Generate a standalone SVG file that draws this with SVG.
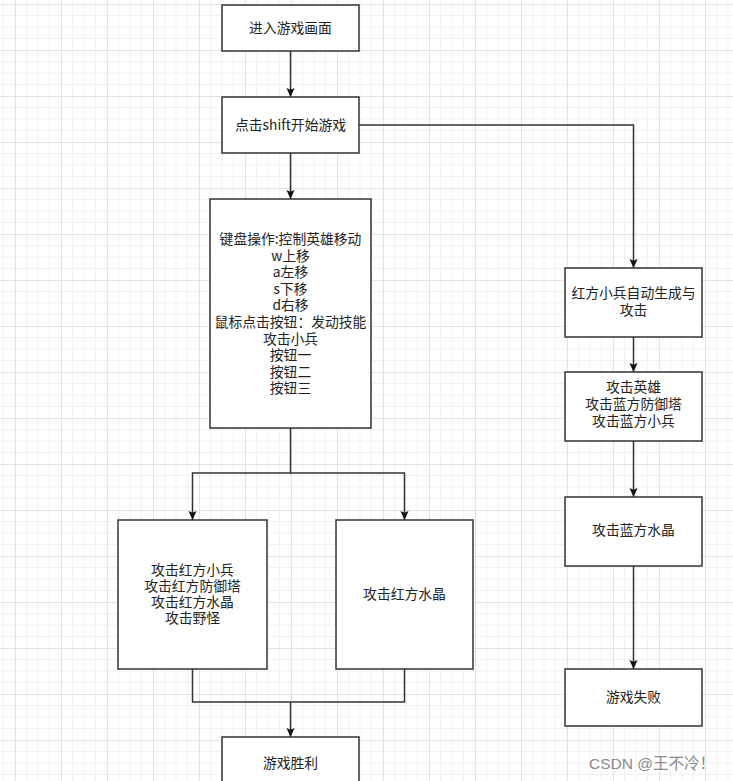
<svg xmlns="http://www.w3.org/2000/svg" width="733" height="781" viewBox="0 0 733 781">
<defs>
<pattern id="grid" patternUnits="userSpaceOnUse" x="15" y="4" width="46" height="46">
<path d="M11.5 0V46M23 0V46M34.5 0V46M0 11.5H46M0 23H46M0 34.5H46" stroke="#f1f1f1" stroke-width="1" fill="none"/>
<path d="M0.5 0V46M0 0.5H46" stroke="#e3e3e3" stroke-width="1" fill="none"/>
</pattern>
<marker id="arr" viewBox="0 0 10 10" refX="10" refY="5" markerWidth="9" markerHeight="9" markerUnits="userSpaceOnUse" orient="auto">
<path d="M0,0.5 L10,5 L0,9.5 L2,5 z" fill="#111"/>
</marker>
<style>
.box{fill:#fff;stroke:#333;stroke-width:1.5}
.t{font-family:"Noto Sans CJK SC","Liberation Sans",sans-serif;font-size:13.8px;fill:#222;text-anchor:middle}
.c{fill:none;stroke:#333;stroke-width:1.5}
.wm{font-family:"Liberation Sans","Noto Sans CJK SC",sans-serif;font-size:15.5px;fill:#8a8a8a}
.wmc{font-family:"Noto Sans CJK SC",sans-serif}
</style>
</defs>
<rect width="733" height="781" fill="#fff"/>
<rect width="733" height="781" fill="url(#grid)"/>

<g id="connectors">
<path class="c" d="M290.5 51V97" marker-end="url(#arr)"/>
<path class="c" d="M290.5 153V199" marker-end="url(#arr)"/>
<path class="c" d="M359 125H633.5V268" marker-end="url(#arr)"/>
<path class="c" d="M290.5 428V473H192.5V520" marker-end="url(#arr)"/>
<path class="c" d="M290.5 473H404.5V520" marker-end="url(#arr)"/>
<path class="c" d="M192.5 669V702H404.5V669"/>
<path class="c" d="M290.5 702V737" marker-end="url(#arr)"/>
<path class="c" d="M633.5 337V372" marker-end="url(#arr)"/>
<path class="c" d="M633.5 441V497" marker-end="url(#arr)"/>
<path class="c" d="M633.5 566V669" marker-end="url(#arr)"/>
</g>

<g id="n1"><rect class="box" x="222" y="5" width="137" height="46"/><text class="t" x="290.5" y="33">进入游戏画面</text></g>
<g id="n2"><rect class="box" x="222" y="97" width="137" height="56"/><text class="t" x="290.5" y="130">点击shift开始游戏</text></g>
<g id="n3"><rect class="box" x="210" y="199" width="161" height="229"/>
<text class="t" x="290.5" y="244">键盘操作:控制英雄移动</text>
<text class="t" x="290.5" y="260.6">w上移</text>
<text class="t" x="290.5" y="277.2">a左移</text>
<text class="t" x="290.5" y="293.8">s下移</text>
<text class="t" x="290.5" y="310.4">d右移</text>
<text class="t" x="290.5" y="327">鼠标点击按钮：发动技能</text>
<text class="t" x="290.5" y="343.6">攻击小兵</text>
<text class="t" x="290.5" y="360.2">按钮一</text>
<text class="t" x="290.5" y="376.8">按钮二</text>
<text class="t" x="290.5" y="393.4">按钮三</text>
</g>
<g id="n4"><rect class="box" x="565" y="268" width="137" height="69"/>
<text class="t" x="633.5" y="298">红方小兵自动生成与</text>
<text class="t" x="633.5" y="314.6">攻击</text></g>
<g id="n5"><rect class="box" x="565" y="372" width="137" height="69"/>
<text class="t" x="633.5" y="391.5">攻击英雄</text>
<text class="t" x="633.5" y="408.5">攻击蓝方防御塔</text>
<text class="t" x="633.5" y="425.5">攻击蓝方小兵</text></g>
<g id="n6"><rect class="box" x="565" y="497" width="137" height="69"/><text class="t" x="633.5" y="535">攻击蓝方水晶</text></g>
<g id="n7"><rect class="box" x="565" y="669" width="137" height="57"/><text class="t" x="633.5" y="701.5">游戏失败</text></g>
<g id="n8"><rect class="box" x="118" y="520" width="149" height="149"/>
<text class="t" x="192.5" y="574.5">攻击红方小兵</text>
<text class="t" x="192.5" y="590.5">攻击红方防御塔</text>
<text class="t" x="192.5" y="606.5">攻击红方水晶</text>
<text class="t" x="192.5" y="622.5">攻击野怪</text></g>
<g id="n9"><rect class="box" x="336" y="520" width="137" height="149"/><text class="t" x="404.5" y="599">攻击红方水晶</text></g>
<g id="n10"><rect class="box" x="222" y="737" width="137" height="52"/><text class="t" x="290.5" y="767.5">游戏胜利</text></g>
<text class="wm" x="589" y="768.5">CSDN @<tspan class="wmc">王不冷！</tspan></text>
</svg>
